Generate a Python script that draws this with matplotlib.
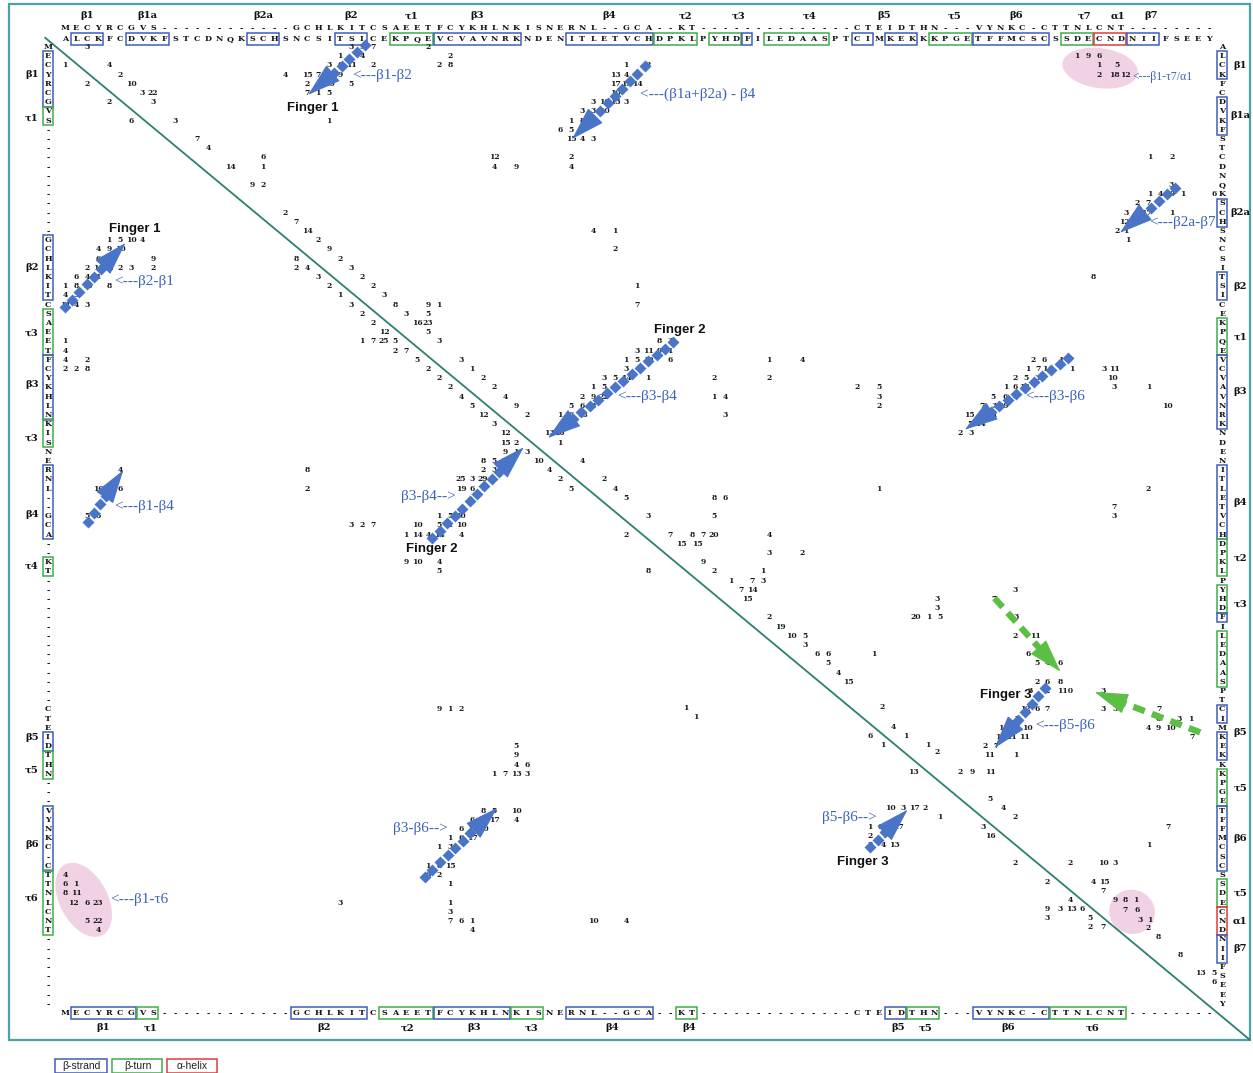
import matplotlib
matplotlib.use("Agg")
import matplotlib.pyplot as plt
import numpy as np
from matplotlib.patches import Rectangle, Ellipse
from matplotlib.transforms import ScaledTranslation

# ---------------------------------------------------------------------------
# Sequences (residue 1..105).  The aligned query runs down the left column
# and along the bottom; the target runs across the top and down the right.
# ---------------------------------------------------------------------------
SEQ_ALIGNED = ("MECYRCGVS-" "----------" "-GCHLKITCS" "AEETFCYKHL" "NKISNERNL-"
               "-GCA--KT--" "----------" "--CTEIDTHN" "---VYNKC-C" "TTNLCNT---"
               "-----")
SEQ_TARGET = ("ALCKFCDVKF" "STCDNQKSCH" "SNCSITSICE" "KPQEVCVAVN" "RKNDENITLE"
              "TVCHDPKLPY" "HDFILEDAAS" "PTCIMKEKKK" "PGETFFMCSC" "SSDECNDNII"
              "FSEEY")

# secondary-structure boxes: (first residue, last residue, kind)
TARGET_SS = [(2, 4, "strand"), (7, 10, "strand"), (18, 20, "strand"),
             (26, 28, "strand"), (31, 34, "turn"), (35, 42, "strand"),
             (47, 54, "strand"), (55, 58, "turn"), (60, 62, "turn"),
             (63, 63, "strand"), (65, 70, "turn"), (73, 74, "strand"),
             (76, 78, "strand"), (80, 83, "turn"), (84, 90, "strand"),
             (92, 94, "turn"), (95, 97, "helix"), (98, 100, "strand")]
ALIGNED_SS = [(2, 7, "strand"), (8, 9, "turn"), (22, 28, "strand"),
              (30, 34, "turn"), (35, 41, "strand"), (42, 44, "turn"),
              (47, 54, "strand"), (57, 58, "turn"), (76, 77, "strand"),
              (78, 80, "turn"), (84, 90, "strand"), (91, 97, "turn")]

TOP_LABELS = [("β1", 3), ("β1a", 8.5), ("β2a", 19), ("β2", 27), ("τ1", 32.5),
              ("β3", 38.5), ("β4", 50.5), ("τ2", 57.4), ("τ3", 62.2),
              ("τ4", 68.7), ("β5", 75.5), ("τ5", 81.9), ("β6", 87.5),
              ("τ7", 93.7), ("α1", 96.7), ("β7", 99.7)]
RIGHT_LABELS = [("β1", 3), ("β1a", 8.5), ("β2a", 19), ("β2", 27), ("τ1", 32.5),
                ("β3", 38.5), ("β4", 50.5), ("τ2", 56.5), ("τ3", 61.5),
                ("β5", 75.5), ("τ5", 81.5), ("β6", 87), ("τ5", 93),
                ("α1", 96), ("β7", 99)]
LEFT_LABELS = [("β1", 4.0), ("τ1", 8.7), ("β2", 25), ("τ3", 32.1), ("β3", 37.7),
               ("τ3", 43.5), ("β4", 51.8), ("τ4", 57.4), ("β5", 76.1),
               ("τ5", 79.6), ("β6", 87.7), ("τ6", 93.5)]
BOTTOM_LABELS = [("β1", 4.5), ("τ1", 8.8), ("β2", 24.6), ("τ2", 32.1),
                 ("β3", 38.2), ("τ3", 43.4), ("β4", 50.7), ("β4", 57.7),
                 ("β5", 76.7), ("τ5", 79.2), ("β6", 86.7), ("τ6", 94.4)]

# ---------------------------------------------------------------------------
# Contact counts: (target residue, aligned residue, count)
# ---------------------------------------------------------------------------
contacts_n_term = [(3, 1, 3), (1, 3, 1), (5, 3, 4), (6, 4, 2), (3, 5, 2), (7, 5, 10),
                   (8, 6, 3), (9, 6, 22), (5, 7, 2), (9, 7, 3), (7, 9, 6), (11, 9, 3),
                   (13, 11, 7), (14, 12, 4), (19, 13, 6), (16, 14, 14), (19, 14, 1),
                   (18, 16, 9), (19, 16, 2)]
finger1_upper = [(27, 1, 3), (28, 1, 5), (29, 1, 7), (34, 1, 2), (26, 2, 1), (28, 2, 4),
                 (36, 2, 2), (25, 3, 3), (26, 3, 6), (27, 3, 11), (29, 3, 2), (35, 3, 2),
                 (36, 3, 8), (21, 4, 4), (23, 4, 15), (24, 4, 7), (25, 4, 11), (26, 4, 9),
                 (23, 5, 2), (25, 5, 10), (27, 5, 5), (23, 6, 7), (24, 6, 1), (25, 6, 5),
                 (25, 9, 1)]
finger1_lower = [(5, 22, 1), (6, 22, 5), (7, 22, 10), (8, 22, 4), (4, 23, 4), (5, 23, 9),
                 (6, 23, 10), (4, 24, 6), (5, 24, 2), (9, 24, 9), (3, 25, 2), (4, 25, 10),
                 (5, 25, 22), (6, 25, 2), (7, 25, 3), (9, 25, 2), (2, 26, 6), (3, 26, 4),
                 (4, 26, 1), (1, 27, 1), (2, 27, 8), (3, 27, 15), (5, 27, 8), (1, 28, 4),
                 (2, 28, 5), (1, 29, 11), (2, 29, 4), (3, 29, 3), (1, 33, 1), (1, 34, 4),
                 (1, 35, 4), (3, 35, 2), (1, 36, 2), (2, 36, 2), (3, 36, 8)]
beta1_beta4 = [(6, 47, 4), (4, 49, 10), (5, 49, 8), (6, 49, 6), (3, 52, 5), (4, 52, 6)]
beta1a2a_beta4 = [(52, 3, 1), (54, 3, 2), (51, 4, 13), (52, 4, 4), (51, 5, 17), (52, 5, 15),
                  (53, 5, 14), (51, 6, 10), (49, 7, 3), (50, 7, 10), (51, 7, 13), (52, 7, 3),
                  (48, 8, 3), (49, 8, 3), (50, 8, 10), (47, 9, 1), (48, 9, 8), (49, 9, 13),
                  (46, 10, 6), (47, 10, 5), (48, 10, 6), (47, 11, 15), (48, 11, 4),
                  (49, 11, 3), (40, 13, 12), (47, 13, 2), (40, 14, 4), (42, 14, 9),
                  (47, 14, 4), (49, 21, 4), (51, 21, 1), (51, 23, 2), (53, 27, 1),
                  (53, 29, 7)]
diagonal_band = [(21, 19, 2), (22, 20, 7), (23, 21, 14), (24, 22, 2), (25, 23, 9),
                 (26, 24, 2), (27, 25, 3), (28, 26, 2), (29, 27, 2), (30, 28, 3),
                 (31, 29, 8), (34, 29, 9), (35, 29, 1), (32, 30, 3), (34, 30, 5),
                 (33, 31, 16), (34, 31, 23), (34, 32, 5), (35, 33, 3), (37, 35, 3),
                 (38, 36, 1), (39, 37, 2), (40, 38, 2), (41, 39, 4), (42, 40, 9),
                 (43, 41, 2), (22, 24, 8), (22, 25, 2), (23, 25, 4), (24, 26, 3),
                 (25, 27, 2), (26, 28, 1), (27, 29, 3), (28, 30, 2), (29, 31, 2),
                 (30, 32, 12), (28, 33, 1), (29, 33, 7), (30, 33, 25), (31, 33, 5),
                 (31, 34, 2), (32, 34, 7), (33, 35, 5), (34, 36, 2), (35, 37, 2),
                 (36, 38, 2), (37, 39, 4), (38, 40, 5), (39, 41, 12), (40, 42, 3),
                 (41, 43, 12), (41, 44, 15), (42, 44, 2), (41, 45, 9), (42, 45, 1),
                 (43, 45, 3), (44, 46, 10), (45, 47, 4), (46, 48, 2), (47, 49, 5),
                 (48, 46, 4), (50, 48, 2), (51, 49, 4), (52, 50, 5), (23, 47, 8),
                 (23, 49, 2)]
finger2_upper = [(55, 33, 8), (56, 33, 3), (53, 34, 3), (54, 34, 11), (55, 34, 9),
                 (56, 34, 1), (52, 35, 1), (53, 35, 5), (54, 35, 19), (56, 35, 6),
                 (52, 36, 3), (50, 37, 3), (51, 37, 5), (52, 37, 14), (54, 37, 1),
                 (49, 38, 1), (50, 38, 5), (48, 39, 2), (49, 39, 9), (50, 39, 22),
                 (47, 40, 5), (48, 40, 6), (49, 40, 8), (46, 41, 1), (47, 41, 6),
                 (48, 41, 18), (46, 42, 4), (47, 42, 9), (45, 43, 13), (46, 43, 26),
                 (46, 44, 1)]
finger2_lower = [(39, 46, 8), (40, 46, 5), (41, 46, 10), (39, 47, 2), (40, 47, 3),
                 (37, 48, 25), (38, 48, 3), (39, 48, 29), (37, 49, 19), (38, 49, 6),
                 (39, 49, 1), (35, 52, 1), (36, 52, 5), (37, 52, 30), (27, 53, 3),
                 (28, 53, 2), (29, 53, 7), (33, 53, 10), (35, 53, 5), (36, 53, 1),
                 (37, 53, 10), (32, 54, 1), (33, 54, 14), (34, 54, 4), (35, 54, 14),
                 (37, 54, 4), (32, 57, 9), (33, 57, 10), (35, 57, 4), (35, 58, 5)]
middle_upper = [(65, 35, 1), (68, 35, 4), (60, 37, 2), (65, 37, 2), (73, 38, 2),
                (75, 38, 5), (60, 39, 1), (61, 39, 4), (75, 39, 3), (75, 40, 2),
                (61, 41, 3), (75, 49, 1), (60, 50, 8), (61, 50, 6), (54, 52, 3),
                (60, 52, 5), (52, 54, 2), (56, 54, 7), (58, 54, 8), (59, 54, 7),
                (60, 54, 20), (65, 54, 4)]
beta3_beta6_upper = [(89, 35, 2), (90, 35, 6), (91.5, 35, 1), (88.5, 36, 1), (89.5, 36, 7),
                     (90.3, 36, 14), (92.5, 36, 1), (95.5, 36, 3), (96.4, 36, 11),
                     (87.4, 37, 2), (88.4, 37, 5), (89.4, 37, 3), (96.2, 37, 10),
                     (86.5, 38, 1), (87.4, 38, 6), (88.2, 38, 12), (96.4, 38, 3),
                     (99.5, 38, 1), (85.4, 39, 5), (86.5, 39, 6), (87.4, 39, 4),
                     (84.4, 40, 7), (85.5, 40, 3), (86.3, 40, 19), (101.2, 40, 10),
                     (83.2, 41, 15), (84.4, 41, 6), (85.3, 41, 11), (83.3, 42, 5),
                     (84.2, 42, 14), (82.4, 43, 2), (83.4, 43, 3), (99.5, 49, 2),
                     (96.4, 51, 7), (96.4, 52, 3)]
c_term_upper = [(93, 2, 1), (94, 2, 9), (95, 2, 6), (95, 3, 1), (96.6, 3, 5), (95, 4, 2),
                (96.4, 4, 18), (97.4, 4, 12), (99.6, 13, 1), (101.6, 13, 2),
                (101.6, 16, 3), (99.6, 17, 1), (100.6, 17, 4), (101.7, 17, 9),
                (102.6, 17, 1), (105.5, 17, 6), (98.5, 18, 2), (99.5, 18, 7),
                (100.5, 18, 3), (97.5, 19, 3), (98.5, 19, 8), (99.3, 19, 17),
                (101.6, 19, 1), (97.3, 20, 12), (98.5, 20, 1), (96.6, 21, 2),
                (97.4, 21, 1), (97.6, 22, 1), (94.5, 26, 8)]
diagonal_c_term = [(57, 55, 15), (58.5, 55, 15), (65, 56, 3), (68, 56, 2), (54, 58, 8),
                   (59, 57, 9), (60, 58, 2), (61.5, 59, 1), (63.5, 59, 7), (64.4, 58, 1),
                   (64.5, 59, 3), (62.5, 60, 7), (63.5, 60, 14), (63, 61, 15),
                   (65, 63, 2), (66, 64, 19), (67, 65, 10), (68.3, 65, 5), (68.3, 66, 3),
                   (69.4, 67, 6), (70.4, 67, 6), (70.4, 68, 5), (71.3, 69, 4),
                   (72.2, 70, 15), (74.5, 67, 1), (78.3, 63, 20), (79.5, 63, 1),
                   (80.5, 63, 5), (80.3, 61, 3), (80.3, 62, 3), (75.3, 72.7, 2),
                   (74.2, 75.9, 6), (75.3, 76.9, 1), (76.3, 74.9, 4), (77.4, 75.9, 1),
                   (79.4, 76.9, 1), (80.3, 77.6, 2), (78.1, 79.8, 13), (82.4, 79.8, 2),
                   (83.5, 79.8, 9), (85.1, 79.8, 11), (85.1, 82.7, 5), (86.3, 83.7, 4),
                   (80.5, 84.7, 1), (87.4, 84.7, 2), (84.5, 85.8, 3), (85.1, 86.8, 16),
                   (87.4, 89.7, 2), (90.3, 91.8, 2), (92.4, 93.7, 4), (90.3, 94.7, 9),
                   (91.5, 94.7, 3), (92.5, 94.7, 13), (93.5, 94.7, 6), (90.3, 95.7, 3),
                   (94.2, 95.7, 5), (94.2, 96.7, 2), (95.4, 96.7, 7), (100.4, 97.7, 8),
                   (102.4, 99.7, 8), (104.2, 101.7, 13), (105.5, 101.7, 5),
                   (105.5, 102.6, 6)]
finger3_upper = [(87.4, 60, 3), (85.5, 61, 7), (87.5, 63, 3), (87.4, 65, 2), (89.2, 65, 11),
                 (88.6, 67, 6), (89.6, 67, 27), (89.4, 68, 5), (90.3, 68, 4),
                 (91.5, 68, 6), (89.4, 70, 2), (90.3, 70, 6), (91.5, 70, 8),
                 (88.7, 71, 3), (90.3, 71, 2), (91.9, 71, 110), (88.3, 73, 12),
                 (89.4, 73, 6), (90.3, 73, 7), (87.4, 74, 1), (86.3, 75, 11),
                 (87.6, 75, 8), (88.5, 75, 10), (86, 76, 12), (87, 76, 11),
                 (88.2, 76, 11), (84.6, 77, 2), (85.6, 77, 7), (85, 78, 11),
                 (87.4, 78, 1), (95.4, 71, 3), (95.4, 73, 3), (96.5, 73, 3),
                 (98.5, 73, 2), (100.5, 73, 7), (100.4, 74, 6), (102.3, 74, 3),
                 (103.3, 74, 1), (99.5, 75, 4), (100.4, 75, 9), (101.5, 75, 10),
                 (103.5, 76, 7)]
finger3_lower = [(76, 83.7, 10), (77.2, 83.7, 3), (78.2, 83.7, 17), (79.2, 83.7, 2),
                 (74.2, 85.8, 1), (75.1, 85.8, 6), (75.9, 85.8, 8), (76.8, 85.8, 17),
                 (74.2, 86.8, 2), (75.5, 86.8, 7), (74.2, 87.7, 8), (75.4, 87.7, 4),
                 (76.4, 87.7, 13)]
c_term_lower = [(95.4, 89.7, 10), (96.5, 89.7, 3), (92.4, 89.7, 2), (94.5, 91.8, 4),
                (95.5, 91.8, 15), (95.4, 92.7, 7), (101.3, 85.8, 7), (99.5, 87.7, 1),
                (96.5, 93.7, 9), (97.4, 93.7, 8), (98.3, 93.7, 1), (97.4, 94.8, 7),
                (98.5, 94.8, 6), (98.7, 95.9, 3), (99.6, 95.9, 1), (99.5, 96.8, 2)]
beta3_beta6_lower = [(42, 77, 5), (42, 78, 9), (42, 79, 4), (43, 79, 6), (40, 80, 1),
                     (41, 80, 7), (42, 80, 13), (43, 80, 3), (39, 84, 8), (40, 84, 5),
                     (42, 84, 10), (38, 85, 6), (39, 85, 6), (40, 85, 17), (42, 85, 4),
                     (37, 86, 6), (38, 86, 11), (39, 86, 10), (36, 87, 1), (37, 87, 6),
                     (38, 87, 17), (35, 88, 1), (36, 88, 3), (34, 90, 1), (35, 90, 8),
                     (36, 90, 15), (34, 91, 6), (35, 91, 2), (36, 92, 1), (36, 94, 1),
                     (26, 94, 3), (36, 95, 3), (36, 96, 7), (37, 96, 6), (38, 96, 1),
                     (49, 96, 10), (52, 96, 4), (38, 97, 4), (35, 73, 9), (36, 73, 1),
                     (37, 73, 2), (57.4, 72.9, 1), (58.3, 73.8, 1)]
beta1_tau6 = [(1, 91, 4), (1, 92, 6), (2, 92, 1), (1, 93, 8), (2, 93, 11), (1.8, 94, 12),
              (3, 94, 6), (4, 94, 23), (3, 96, 5), (4, 96, 22), (4, 97, 4)]

CONTACT_GROUPS = [contacts_n_term, finger1_upper, finger1_lower, beta1_beta4,
                  beta1a2a_beta4, diagonal_band, finger2_upper, finger2_lower,
                  middle_upper, beta3_beta6_upper, c_term_upper, diagonal_c_term,
                  finger3_upper, finger3_lower, c_term_lower, beta3_beta6_lower,
                  beta1_tau6]

# arrows between contacting strands: (tail, tip)
BLUE_ARROWS = [((28.3, 0.8), (23.1, 6.2)), ((1.0, 29.3), (6.5, 22.3)),
               ((3.1, 52.6), (6.3, 47.0)), ((53.7, 3.1), (47.1, 11.0)),
               ((101.9, 16.3), (96.9, 21.2)), ((56.3, 33.1), (44.9, 43.5)),
               ((34.4, 54.4), (42.7, 44.5)), ((92.2, 34.8), (82.8, 42.6)),
               ((33.7, 91.2), (40.3, 83.7)), ((90.1, 70.7), (85.5, 77.2)),
               ((74.2, 88.0), (77.6, 83.9))]
GREEN_ARROWS = [((85.5, 60.9), (91.5, 68.9)), ((104.2, 75.5), (94.6, 71.1))]

BLUE_TEXT = [("<---β1-β2", 27.1, 4.15), ("<---β2-β1", 5.5, 26.5),
             ("<---β1-β4", 5.5, 50.9), ("<---(β1a+β2a) - β4", 53.3, 6.1),
             ("<---β2a-β7", 99.6, 20.1), ("<---β3-β4", 51.2, 39.0),
             ("β3-β4-->", 31.5, 49.9), ("<---β3-β6", 88.3, 39.0),
             ("β3-β6-->", 30.8, 86.0), ("<---β5-β6", 89.2, 74.8),
             ("β5-β6-->", 69.8, 84.7), ("<---β1-τ6", 5.1, 93.7)]
SMALL_BLUE_TEXT = [("<---β1-τ7/α1", 98.0, 4.3)]
FINGER_TEXT = [("Finger 1", 23.5, 7.6), ("Finger 1", 7.3, 20.8),
               ("Finger 2", 56.9, 31.8), ("Finger 2", 34.3, 55.6),
               ("Finger 3", 86.5, 71.4), ("Finger 3", 73.5, 89.6)]
# pink highlight ellipses: centre (target, aligned), width/height in px, angle
HIGHLIGHTS = [((95.1, 3.3), 76, 40, -8), ((2.7, 93.7), 80, 48, -62),
              ((98.0, 95.0), 46, 44, -20)]
LEGEND = [("β-strand", "strand"), ("β-turn", "turn"), ("α-helix", "helix")]

SS_COLORS = {"strand": "#3f5fb8", "turn": "#3fae4a", "helix": "#e03a3a"}
BLUE = "#4a74c8"
LABEL_BLUE = "#3d63b8"
GREEN = "#5cbf45"
TEAL = "#2d7f72"

# ---------------------------------------------------------------------------
W, H = 1253, 1073
PX_X, PX_Y = 11.0, 9.2         # pixels per residue horizontally / vertically
X0, Y0 = 54.0, 37.8            # pixel position of residue 0
fig = plt.figure(figsize=(W / 100, H / 100), dpi=100)
ax = fig.add_axes([0, 0, 1, 1])
ax.set_xlim(-X0 / PX_X, (W - X0) / PX_X)
ax.set_ylim((H - Y0) / PX_Y, -Y0 / PX_Y)
ax.axis("off")

SEQ_FONT = dict(family="DejaVu Serif", weight="bold", fontsize=5.8,
                ha="center", va="center", color="#111111")
NUM_FONT = dict(family="DejaVu Serif", weight="bold", fontsize=5.5,
                ha="center", va="center", color="#1a1a1a")

# frame and diagonal
ax.add_patch(Rectangle((-4.05, -3.7), 112.75, 112.6, fill=False,
                       edgecolor="#4aa3a8", lw=1.6, zorder=1))
ax.plot([-0.8, 108.7], [0.0, 108.9], color=TEAL, lw=1.3, zorder=2)

ROW_LABEL_Y, ROW_ALN_Y, ROW_TGT_Y = -2.37, -1.07, 0.13
LEFT_X, RIGHT_X = -0.55, 106.2
BOTTOM_Y, BOTTOM_LABEL_Y = 106.0, 107.6

# sequence rows and columns
for k, ch in enumerate(SEQ_ALIGNED, start=1):
    ax.text(k, ROW_ALN_Y, ch, **SEQ_FONT)
    ax.text(LEFT_X, k, ch, **SEQ_FONT)
    ax.text(k, BOTTOM_Y, ch, **SEQ_FONT)
for k, ch in enumerate(SEQ_TARGET, start=1):
    ax.text(k, ROW_TGT_Y, ch, **SEQ_FONT)
    ax.text(RIGHT_X, k, ch, **SEQ_FONT)

# boxes around secondary-structure elements
for s, e, kind in TARGET_SS:
    c = SS_COLORS[kind]
    ax.add_patch(Rectangle((s - 0.45, ROW_TGT_Y - 0.62), e - s + 0.9, 1.24,
                           fill=False, edgecolor=c, lw=1.1))
    ax.add_patch(Rectangle((RIGHT_X - 0.48, s - 0.52), 0.96, e - s + 1.04,
                           fill=False, edgecolor=c, lw=1.1))
for s, e, kind in ALIGNED_SS:
    c = SS_COLORS[kind]
    ax.add_patch(Rectangle((s - 0.45, BOTTOM_Y - 0.62), e - s + 0.9, 1.24,
                           fill=False, edgecolor=c, lw=1.1))
    ax.add_patch(Rectangle((LEFT_X - 0.48, s - 0.52), 0.96, e - s + 1.04,
                           fill=False, edgecolor=c, lw=1.1))

LAB_FONT = dict(family="DejaVu Serif", weight="bold", fontsize=7.2,
                ha="center", va="center", color="#111111")
for t, k in TOP_LABELS:
    ax.text(k, ROW_LABEL_Y, t, **LAB_FONT)
for t, k in RIGHT_LABELS:
    ax.text(107.85, k, t, **LAB_FONT)
for t, k in LEFT_LABELS:
    ax.text(-2.0, k, t, **LAB_FONT)
for t, k in BOTTOM_LABELS:
    ax.text(k, BOTTOM_LABEL_Y, t, **LAB_FONT)

# highlight ellipses (sized in pixels)
for (ci, cj), wpx, hpx, ang in HIGHLIGHTS:
    tr = fig.dpi_scale_trans + ScaledTranslation(ci, cj, ax.transData)
    ax.add_patch(Ellipse((0, 0), wpx / 100, hpx / 100, angle=ang,
                         transform=tr, facecolor="#f0cde2", edgecolor="none",
                         alpha=0.9, zorder=1))

# contact counts
for group in CONTACT_GROUPS:
    for ti, aj, n in group:
        ax.text(ti, aj, str(n), zorder=3, **NUM_FONT)


def chain_arrow(start, end, color, head_px=30.0, step_px=10.5, dashed=False):
    (i0, j0), (i1, j1) = start, end
    L = np.hypot((i1 - i0) * PX_X, (j1 - j0) * PX_Y)
    f = max(0.0, (L - head_px) / L)
    hi, hj = i0 + (i1 - i0) * f, j0 + (j1 - j0) * f
    if dashed:
        ax.plot([i0, hi], [j0, hj], color=color, lw=4.6,
                ls=(0, (1.9, 1.2)), solid_capstyle="butt", zorder=4)
    else:
        n = max(1, int((L - head_px) // step_px) + 1)
        t = np.arange(n) * step_px / L
        ax.plot(i0 + (i1 - i0) * t, j0 + (j1 - j0) * t, ls="none", marker="D",
                ms=6.0, color=color, mec="none", zorder=4)
    ax.annotate("", xy=(i1, j1), xytext=(hi, hj),
                arrowprops=dict(arrowstyle="-|>,head_length=2.2,head_width=0.68",
                                mutation_scale=10, color=color, lw=0.8,
                                shrinkA=0, shrinkB=0), zorder=5)


for s, e in BLUE_ARROWS:
    chain_arrow(s, e, BLUE)
for s, e in GREEN_ARROWS:
    chain_arrow(s, e, GREEN, dashed=True)

for t, x, y in BLUE_TEXT:
    ax.text(x, y, t, family="Liberation Serif", fontsize=11, color=LABEL_BLUE,
            ha="left", va="center", zorder=6)
for t, x, y in SMALL_BLUE_TEXT:
    ax.text(x, y, t, family="Liberation Serif", fontsize=8.5, color=LABEL_BLUE,
            ha="left", va="center", zorder=6)
for t, x, y in FINGER_TEXT:
    ax.text(x, y, t, family="Liberation Sans", weight="bold", fontsize=9.5,
            color="#111111", ha="center", va="center", zorder=6)

# legend boxes under the frame
lx = 0.1
for t, kind in LEGEND:
    ax.text(lx + 2.35, 111.75, t, family="Liberation Sans", fontsize=7.5,
            ha="center", va="center", color="#222222")
    ax.add_patch(Rectangle((lx, 111.05), 4.7 if kind == "strand" else 4.55, 1.45,
                           fill=False, edgecolor=SS_COLORS[kind], lw=1.1))
    lx += 5.15 if kind == "strand" else 5.0

fig.savefig("out.png", dpi=100)
